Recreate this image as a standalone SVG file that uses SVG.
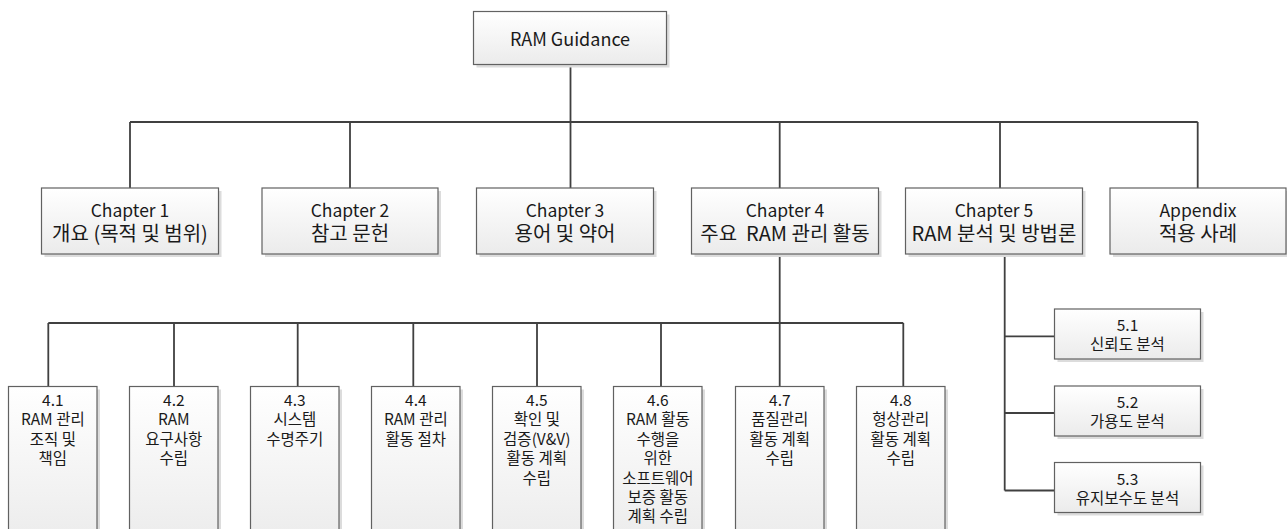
<svg xmlns="http://www.w3.org/2000/svg" width="1287" height="529" viewBox="0 0 1287 529">
<defs>
<linearGradient id="g" x1="0" y1="0" x2="0" y2="1">
<stop offset="0" stop-color="#ffffff"/>
<stop offset="1" stop-color="#ebebeb"/>
</linearGradient>
<style>
.box{fill:url(#g);stroke:#616161;stroke-width:1.2}
.sh{fill:#dcdcdc}
.t{font-family:"Noto Sans CJK KR","Noto Sans",sans-serif;fill:#1a1a1a;text-anchor:middle;dominant-baseline:central}
.big{font-size:18px}
.hd{font-size:17.5px}
.kr{font-size:20px}
.sm{font-size:15.5px}
.ln{stroke:#404040;stroke-width:1.8;fill:none}
</style>
</defs>
<rect width="1287" height="529" fill="#ffffff"/>
<g id="connectors">
<path class="ln" d="M570.5 64.5V122M130 122H1197.7M130 122V188M350 122V188M570.5 122V188M779.7 122V188M1000 122V188M1197.7 122V188"/>
<path class="ln" d="M779.7 254V323M48.3 323H903.3M48.3 323V386.5M174 323V386.5M297.7 323V386.5M413.3 323V386.5M537 323V386.5M661 323V386.5M779.7 323V386.5M903.3 323V386.5"/>
<path class="ln" d="M1004.7 254V490.5M1004.7 336.3H1054.5M1004.7 413H1054.5M1004.7 490.5H1054.5"/>
</g>
<g id="root">
<rect class="sh" x="476.5" y="14.5" width="193" height="53"/>
<rect class="box" x="473.5" y="11.5" width="193" height="53"/>
<text class="t big" x="570" y="38">RAM Guidance</text>
</g>
<g id="ch1">
<rect class="sh" x="44.5" y="191" width="177" height="66"/>
<rect class="box" x="41.5" y="188" width="177" height="66"/>
<text class="t hd" x="130" y="209">Chapter 1</text>
<text class="t kr" x="130" y="232.5">개요 (목적 및 범위)</text>
</g>
<g id="ch2">
<rect class="sh" x="265" y="191" width="176" height="66"/>
<rect class="box" x="262" y="188" width="176" height="66"/>
<text class="t hd" x="350" y="209">Chapter 2</text>
<text class="t kr" x="350" y="232.5">참고 문헌</text>
</g>
<g id="ch3">
<rect class="sh" x="479.5" y="191" width="177" height="66"/>
<rect class="box" x="476.5" y="188" width="177" height="66"/>
<text class="t hd" x="565" y="209">Chapter 3</text>
<text class="t kr" x="565" y="232.5">용어 및 약어</text>
</g>
<g id="ch4">
<rect class="sh" x="694.5" y="191" width="187" height="66"/>
<rect class="box" x="691.5" y="188" width="187" height="66"/>
<text class="t hd" x="785" y="209">Chapter 4</text>
<text class="t kr" x="785" y="232.5" xml:space="preserve">주요  RAM 관리 활동</text>
</g>
<g id="ch5">
<rect class="sh" x="908.5" y="191" width="177" height="66"/>
<rect class="box" x="905.5" y="188" width="177" height="66"/>
<text class="t hd" x="994" y="209">Chapter 5</text>
<text class="t kr" x="994" y="232.5">RAM 분석 및 방법론</text>
</g>
<g id="appendix">
<rect class="sh" x="1113" y="191" width="176" height="66"/>
<rect class="box" x="1110" y="188" width="176" height="66"/>
<text class="t hd" x="1198" y="209">Appendix</text>
<text class="t kr" x="1198" y="232.5">적용 사례</text>
</g>
<g id="s41">
<rect class="sh" x="11.5" y="389.5" width="88.5" height="160"/>
<rect class="box" x="8.5" y="386.5" width="88.5" height="160"/>
<text class="t sm" x="52.8" y="399">4.1</text>
<text class="t sm" x="52.8" y="418.4">RAM 관리</text>
<text class="t sm" x="52.8" y="437.8">조직 및</text>
<text class="t sm" x="52.8" y="457.2">책임</text>
</g>
<g id="s42">
<rect class="sh" x="132.5" y="389.5" width="88.5" height="160"/>
<rect class="box" x="129.5" y="386.5" width="88.5" height="160"/>
<text class="t sm" x="173.8" y="399">4.2</text>
<text class="t sm" x="173.8" y="418.4">RAM</text>
<text class="t sm" x="173.8" y="437.8">요구사항</text>
<text class="t sm" x="173.8" y="457.2">수립</text>
</g>
<g id="s43">
<rect class="sh" x="253.5" y="389.5" width="88.5" height="160"/>
<rect class="box" x="250.5" y="386.5" width="88.5" height="160"/>
<text class="t sm" x="294.8" y="399">4.3</text>
<text class="t sm" x="294.8" y="418.4">시스템</text>
<text class="t sm" x="294.8" y="437.8">수명주기</text>
</g>
<g id="s44">
<rect class="sh" x="374.5" y="389.5" width="88.5" height="160"/>
<rect class="box" x="371.5" y="386.5" width="88.5" height="160"/>
<text class="t sm" x="415.8" y="399">4.4</text>
<text class="t sm" x="415.8" y="418.4">RAM 관리</text>
<text class="t sm" x="415.8" y="437.8">활동 절차</text>
</g>
<g id="s45">
<rect class="sh" x="495.5" y="389.5" width="88.5" height="160"/>
<rect class="box" x="492.5" y="386.5" width="88.5" height="160"/>
<text class="t sm" x="536.8" y="399">4.5</text>
<text class="t sm" x="536.8" y="418.4">확인 및</text>
<text class="t sm" x="536.8" y="437.8">검증(V&amp;V)</text>
<text class="t sm" x="536.8" y="457.2">활동 계획</text>
<text class="t sm" x="536.8" y="476.6">수립</text>
</g>
<g id="s46">
<rect class="sh" x="616.5" y="389.5" width="88.5" height="160"/>
<rect class="box" x="613.5" y="386.5" width="88.5" height="160"/>
<text class="t sm" x="657.8" y="399">4.6</text>
<text class="t sm" x="657.8" y="418.4">RAM 활동</text>
<text class="t sm" x="657.8" y="437.8">수행을</text>
<text class="t sm" x="657.8" y="457.2">위한</text>
<text class="t sm" x="657.8" y="476.6">소프트웨어</text>
<text class="t sm" x="657.8" y="496">보증 활동</text>
<text class="t sm" x="657.8" y="515.4">계획 수립</text>
</g>
<g id="s47">
<rect class="sh" x="738.5" y="389.5" width="88.5" height="160"/>
<rect class="box" x="735.5" y="386.5" width="88.5" height="160"/>
<text class="t sm" x="779.8" y="399">4.7</text>
<text class="t sm" x="779.8" y="418.4">품질관리</text>
<text class="t sm" x="779.8" y="437.8">활동 계획</text>
<text class="t sm" x="779.8" y="457.2">수립</text>
</g>
<g id="s48">
<rect class="sh" x="859.5" y="389.5" width="88.5" height="160"/>
<rect class="box" x="856.5" y="386.5" width="88.5" height="160"/>
<text class="t sm" x="900.8" y="399">4.8</text>
<text class="t sm" x="900.8" y="418.4">형상관리</text>
<text class="t sm" x="900.8" y="437.8">활동 계획</text>
<text class="t sm" x="900.8" y="457.2">수립</text>
</g>
<g id="s51">
<rect class="sh" x="1057.5" y="312" width="146" height="50"/>
<rect class="box" x="1054.5" y="309" width="146" height="50"/>
<text class="t sm" x="1127.5" y="324">5.1</text>
<text class="t sm" x="1127.5" y="343.3">신뢰도 분석</text>
</g>
<g id="s52">
<rect class="sh" x="1057.5" y="389" width="146" height="50"/>
<rect class="box" x="1054.5" y="386" width="146" height="50"/>
<text class="t sm" x="1127.5" y="401">5.2</text>
<text class="t sm" x="1127.5" y="420.3">가용도 분석</text>
</g>
<g id="s53">
<rect class="sh" x="1057.5" y="465.5" width="146" height="50"/>
<rect class="box" x="1054.5" y="462.5" width="146" height="50"/>
<text class="t sm" x="1127.5" y="477.5">5.3</text>
<text class="t sm" x="1127.5" y="496.8">유지보수도 분석</text>
</g>
</svg>
